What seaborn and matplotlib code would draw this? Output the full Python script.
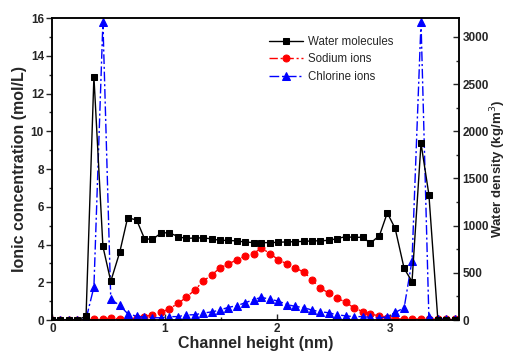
import numpy as np
import pandas as pd
import seaborn as sns
import matplotlib
matplotlib.use("Agg")
import matplotlib.pyplot as plt
from matplotlib.ticker import MultipleLocator

# channel height grid (nm)
height = [0.00, 0.07, 0.15, 0.22, 0.30, 0.37, 0.45, 0.52, 0.60, 0.67,
          0.75, 0.82, 0.89, 0.97, 1.04, 1.12, 1.19, 1.27, 1.34, 1.42,
          1.49, 1.56, 1.64, 1.71, 1.79, 1.86, 1.94, 2.01, 2.09, 2.16,
          2.24, 2.31, 2.38, 2.46, 2.53, 2.61, 2.68, 2.76, 2.83, 2.91,
          2.98, 3.05, 3.13, 3.20, 3.28, 3.35, 3.43, 3.50, 3.58]

# water density (kg/m^3), right axis
water = [0, 0, 0, 0, 40, 2580, 780, 410, 720, 1084,
         1060, 862, 854, 924, 924, 884, 864, 870, 870, 860,
         844, 844, 838, 828, 820, 820, 820, 824, 828, 830,
         834, 838, 840, 844, 862, 884, 875, 878, 815, 894,
         1135, 970, 546, 408, 1872, 1330, 0, 0, 0]

# ionic concentration (mol/L), left axis
sodium = [0.0, 0.0, 0.0, 0.0, 0.0, 0.04, 0.05, 0.10, 0.06, 0.05,
          0.10, 0.18, 0.27, 0.40, 0.60, 0.88, 1.20, 1.60, 2.05, 2.40,
          2.75, 2.96, 3.18, 3.37, 3.52, 3.82, 3.50, 3.20, 2.96, 2.76,
          2.53, 2.14, 1.70, 1.43, 1.16, 0.95, 0.65, 0.45, 0.32, 0.21,
          0.12, 0.06, 0.05, 0.05, 0.05, 0.05, 0.05, 0.05, 0.05]

chlorine = [0.02, 0.02, 0.02, 0.02, 0.05, 1.75, 15.8, 1.10, 0.77, 0.34,
            0.20, 0.15, 0.12, 0.12, 0.18, 0.18, 0.27, 0.28, 0.37, 0.43,
            0.53, 0.66, 0.76, 0.90, 1.08, 1.20, 1.10, 1.00, 0.82, 0.72,
            0.66, 0.52, 0.45, 0.38, 0.28, 0.22, 0.18, 0.18, 0.14, 0.10,
            0.18, 0.40, 0.65, 3.15, 15.8, 0.15, 0.05, 0.05, 0.05]

df = pd.DataFrame(dict(height=height, water=water, sodium=sodium, chlorine=chlorine))

sns.set_style("ticks")
plt.rcParams["font.family"] = ["Liberation Sans", "DejaVu Sans"]

fig = plt.figure(figsize=(5.08, 3.54), dpi=100)
ax = fig.add_axes([0.103, 0.096, 0.801, 0.853])
ax2 = ax.twinx()

sns.lineplot(data=df, x="height", y="sodium", ax=ax, color="#ff0000", marker="o",
             markersize=5, markeredgecolor="#ff0000", linewidth=1.0,
             linestyle=(0, (6, 2, 1.5, 2)), label="Sodium ions", legend=False)
sns.lineplot(data=df, x="height", y="chlorine", ax=ax, color="#0000ff", marker="^",
             markersize=5.5, markeredgecolor="#0000ff", linewidth=1.0,
             linestyle=(0, (7, 2, 1.5, 2)), label="Chlorine ions", legend=False)
sns.lineplot(data=df, x="height", y="water", ax=ax2, color="black", marker="s",
             markersize=4.5, markeredgecolor="black", linewidth=1.0,
             label="Water molecules", legend=False)

ax.set_xlim(0, 3.62)
ax.set_ylim(0, 16)
ax2.set_ylim(0, 3200)

ax.xaxis.set_major_locator(MultipleLocator(1))
ax.xaxis.set_minor_locator(MultipleLocator(0.5))
ax.yaxis.set_major_locator(MultipleLocator(2))
ax.yaxis.set_minor_locator(MultipleLocator(1))
ax2.yaxis.set_major_locator(MultipleLocator(500))
ax2.yaxis.set_minor_locator(MultipleLocator(250))

ax.tick_params(axis="x", which="both", direction="in", top=False)
ax.tick_params(axis="x", which="major", length=4, width=1)
ax.tick_params(axis="x", which="minor", length=2.5, width=1)
ax.tick_params(axis="y", which="major", direction="out", length=4, width=1)
ax.tick_params(axis="y", which="minor", direction="out", length=2.5, width=1)
ax2.tick_params(axis="y", which="major", direction="in", length=4, width=1)
ax2.tick_params(axis="y", which="minor", direction="in", length=2.5, width=1)

for a in (ax, ax2):
    for s in a.spines.values():
        s.set_linewidth(1.1)
        s.set_color("black")
    for lab in a.get_xticklabels() + a.get_yticklabels():
        lab.set_fontweight("bold")
        lab.set_fontsize(8.5)
    a.tick_params(pad=2)
ax2.tick_params(axis="y", pad=2.5)

ax.set_xlabel("Channel height (nm)", fontsize=11.5, fontweight="bold", labelpad=1)
ax.set_ylabel("Ionic concentration (mol/L)", fontsize=11.5, fontweight="bold", labelpad=3)
ax2.set_ylabel("Water density (kg/m$^3$)", fontsize=9.5, fontweight="bold")
ax2.yaxis.set_label_coords(1.072, 0.5)

h1, l1 = ax2.get_legend_handles_labels()
h2, l2 = ax.get_legend_handles_labels()
ax.legend(h1 + h2, l1 + l2, loc="upper left", bbox_to_anchor=(0.52, 0.955),
          frameon=False, fontsize=8.3, handlelength=3.0, handletextpad=0.4,
          labelspacing=0.45, borderaxespad=0)

fig.savefig("out.png", dpi=100)
